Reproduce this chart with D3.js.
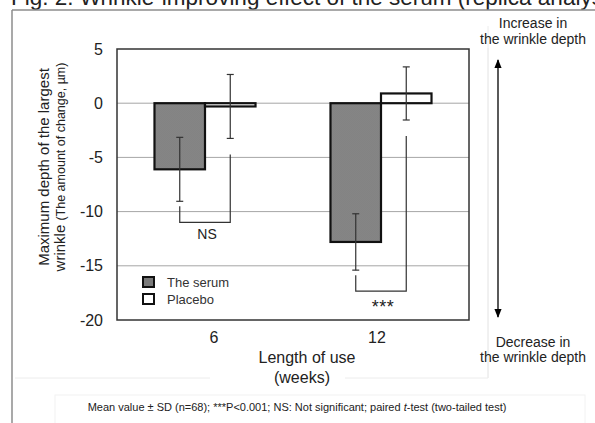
<!DOCTYPE html>
<html>
<head>
<meta charset="utf-8">
<script src="https://cdn.jsdelivr.net/npm/d3@7"></script>
<style>
  body { margin: 0; background: #fff; }
  svg { font-family: "Liberation Sans", Arial, sans-serif; }
</style>
</head>
<body>
<div id="chart"></div>
<script>
// values (change in depth, µm)
var weeks = ["6", "12"];
var groups = ["The serum", "Placebo"];
var serumMean = [-6.1, -12.8];
var serumSD = [2.95, 2.6];
var placeboMean = [-0.3, 0.9];
var placeboSD = [2.95, 2.45];
var sigLabels = ["NS", "***"];
var yTicks = [5, 0, -5, -10, -15, -20];

var width = 595, height = 423;
var plot = { left: 117, right: 469, top: 49, bottom: 320 };

var svg = d3.select("#chart").append("svg")
    .attr("width", width)
    .attr("height", height);

// serum fill texture
var defs = svg.append("defs");
var pat = defs.append("pattern")
    .attr("id", "dots")
    .attr("width", 2).attr("height", 2)
    .attr("patternUnits", "userSpaceOnUse");
pat.append("rect").attr("width", 2).attr("height", 2).attr("fill", "#9c9c9c");
pat.append("rect").attr("width", 1).attr("height", 1).attr("fill", "#6c6c6c");
pat.append("rect").attr("x", 1).attr("y", 1).attr("width", 1).attr("height", 1).attr("fill", "#6c6c6c");

defs.append("marker")
    .attr("id", "head")
    .attr("viewBox", "0 0 10 10")
    .attr("refX", 9).attr("refY", 5)
    .attr("markerWidth", 7).attr("markerHeight", 7)
    .attr("orient", "auto-start-reverse")
    .append("path")
    .attr("d", "M0,1L10,5L0,9Z")
    .attr("fill", "#000");

// title (cut off at the top, as in the source image)
svg.append("text")
    .attr("x", 11).attr("y", 5)
    .attr("font-size", 22.5)
    .attr("fill", "#222")
    .text("Fig. 2. Wrinkle-improving effect of the serum (replica analysis)");

// outer frame bits
svg.append("line").attr("x1", 12).attr("y1", 10).attr("x2", width).attr("y2", 10)
    .attr("stroke", "#8c8c8c").attr("stroke-width", 1.5);
svg.append("line").attr("x1", 12).attr("y1", 10).attr("x2", 12).attr("y2", height)
    .attr("stroke", "#8c8c8c").attr("stroke-width", 1.5);
// faint chart area border
svg.append("path").attr("d", "M15,378H488V26")
    .attr("fill", "none").attr("stroke", "#ececec");
svg.append("rect").attr("x", 55).attr("y", 395).attr("width", 530).attr("height", 30)
    .attr("fill", "#fff").attr("stroke", "#f2f2f2");

var x0 = d3.scaleBand()
    .domain(weeks)
    .range([plot.left, plot.right])
    .paddingInner(0.426)
    .paddingOuter(0.213);

var x1 = d3.scaleBand()
    .domain(groups)
    .range([0, x0.bandwidth()]);

var y = d3.scaleLinear()
    .domain([-20, 5])
    .range([plot.bottom, plot.top]);

// gridlines
svg.append("g")
  .selectAll("line")
  .data(yTicks.filter(function(d) { return d > -20 && d < 5; }))
  .enter().append("line")
    .attr("x1", plot.left).attr("x2", plot.right)
    .attr("y1", function(d) { return y(d); })
    .attr("y2", function(d) { return y(d); })
    .attr("stroke", "#a6a6a6").attr("stroke-width", 1);

// y axis labels
var yAxis = svg.append("g")
    .attr("transform", "translate(" + plot.left + ",0)")
    .call(d3.axisLeft(y).tickValues(yTicks).tickSize(0).tickPadding(14)
        .tickFormat(function(d) { return String(d); }));
yAxis.select(".domain").remove();
yAxis.selectAll("text").attr("font-size", 16).attr("fill", "#222")
    .attr("font-family", "Liberation Sans, Arial, sans-serif");

// x axis labels
var xAxis = svg.append("g")
    .attr("transform", "translate(0," + plot.bottom + ")")
    .call(d3.axisBottom(x0).tickSize(0).tickPadding(12));
xAxis.select(".domain").remove();
xAxis.selectAll("text").attr("font-size", 16).attr("fill", "#222")
    .attr("font-family", "Liberation Sans, Arial, sans-serif")
    .attr("dx", function(d, i) { return i === 0 ? 9 : -4; });

// bars
var rows = weeks.map(function(w, i) {
  return {
    week: w,
    items: [
      { group: groups[0], mean: serumMean[i], sd: serumSD[i] },
      { group: groups[1], mean: placeboMean[i], sd: placeboSD[i] }
    ],
    sig: sigLabels[i]
  };
});

var g = svg.selectAll(".week")
  .data(rows)
  .enter().append("g")
    .attr("class", "week")
    .attr("transform", function(d) { return "translate(" + x0(d.week) + ",0)"; });

g.selectAll("rect")
  .data(function(d) { return d.items; })
  .enter().append("rect")
    .attr("x", function(d) { return x1(d.group); })
    .attr("width", x1.bandwidth())
    .attr("y", function(d) { return y(Math.max(0, d.mean)); })
    .attr("height", function(d) { return Math.abs(y(d.mean) - y(0)); })
    .attr("fill", function(d) { return d.group === groups[0] ? "url(#dots)" : "#fff"; })
    .attr("stroke", "#111").attr("stroke-width", 2.2);

// error bars
var eb = g.selectAll(".err")
  .data(function(d) { return d.items; })
  .enter().append("g").attr("class", "err")
    .attr("transform", function(d) { return "translate(" + (x1(d.group) + x1.bandwidth() / 2) + ",0)"; });
eb.append("line")
    .attr("y1", function(d) { return y(d.mean + d.sd); })
    .attr("y2", function(d) { return y(d.mean - d.sd); });
eb.append("line").attr("x1", -3.5).attr("x2", 3.5)
    .attr("y1", function(d) { return y(d.mean + d.sd); })
    .attr("y2", function(d) { return y(d.mean + d.sd); });
eb.append("line").attr("x1", -3.5).attr("x2", 3.5)
    .attr("y1", function(d) { return y(d.mean - d.sd); })
    .attr("y2", function(d) { return y(d.mean - d.sd); });
eb.selectAll("line").attr("stroke", "#333").attr("stroke-width", 1.2);

// significance brackets
g.each(function(d) {
  var sel = d3.select(this);
  var a = d.items[0], b = d.items[1];
  var xa = x1(a.group) + x1.bandwidth() / 2;
  var xb = x1(b.group) + x1.bandwidth() / 2;
  var ya = y(a.mean - a.sd) + 5;
  var yb = y(b.mean - b.sd) + 16;
  var yl = ya + 16;
  sel.append("path")
      .attr("d", "M" + xa + "," + ya + "V" + yl + "H" + xb + "V" + yb)
      .attr("fill", "none").attr("stroke", "#333").attr("stroke-width", 1.2);
  sel.append("text")
      .attr("x", (xa + xb) / 2 + 2)
      .attr("y", d.sig === "NS" ? yl + 17 : yl + 22)
      .attr("text-anchor", "middle")
      .attr("font-size", d.sig === "NS" ? 14 : 18)
      .attr("letter-spacing", d.sig === "NS" ? 0 : 0.5)
      .attr("fill", "#222")
      .text(d.sig);
});

// plot frame
svg.append("rect")
    .attr("x", plot.left).attr("y", plot.top)
    .attr("width", plot.right - plot.left).attr("height", plot.bottom - plot.top)
    .attr("fill", "none").attr("stroke", "#333").attr("stroke-width", 1.5);

// legend
var leg = svg.append("g").attr("transform", "translate(143,277)");
var li = leg.selectAll("g").data(groups).enter().append("g")
    .attr("transform", function(d, i) { return "translate(0," + i * 17 + ")"; });
li.append("rect").attr("width", 11).attr("height", 10)
    .attr("fill", function(d, i) { return i === 0 ? "#7a7a7a" : "#fff"; })
    .attr("stroke", "#111").attr("stroke-width", 2);
li.append("text").attr("x", 24).attr("y", 10)
    .attr("font-size", 13).attr("fill", "#333")
    .text(function(d) { return d; });

// y axis title
var yt = svg.append("text")
    .attr("transform", "translate(49,167) rotate(-90)")
    .attr("text-anchor", "middle")
    .attr("fill", "#222");
yt.append("tspan").attr("x", 0).attr("y", 0).attr("font-size", 15)
    .text("Maximum depth of the largest");
yt.append("tspan").attr("x", 0).attr("dy", 16).attr("font-size", 15)
    .text("wrinkle ")
  .append("tspan").attr("font-size", 12.5)
    .text("(The amount of change, µm)");

// x axis title
svg.append("rect").attr("x", 210).attr("y", 368).attr("width", 135).attr("height", 20).attr("fill", "#fff");
svg.append("text").attr("x", 307).attr("y", 363).attr("text-anchor", "middle")
    .attr("font-size", 16).attr("fill", "#222").text("Length of use");
svg.append("text").attr("x", 302).attr("y", 383).attr("text-anchor", "middle")
    .attr("font-size", 16).attr("fill", "#222").text("(weeks)");

// right-hand annotation
svg.append("rect").attr("x", 470).attr("y", 12).attr("width", 125).attr("height", 36).attr("fill", "#fff");
svg.append("line").attr("x1", 488).attr("y1", 26).attr("x2", 488).attr("y2", 378).attr("stroke", "#ececec");
[["Increase in", 28], ["the wrinkle depth", 44]].forEach(function(t) {
  svg.append("text").attr("x", 533).attr("y", t[1]).attr("text-anchor", "middle")
      .attr("font-size", 14).attr("fill", "#222").text(t[0]);
});
[["Decrease in", 347], ["the wrinkle depth", 362]].forEach(function(t) {
  svg.append("text").attr("x", 533).attr("y", t[1]).attr("text-anchor", "middle")
      .attr("font-size", 14).attr("fill", "#222").text(t[0]);
});
svg.append("line")
    .attr("x1", 498).attr("y1", 60).attr("x2", 498).attr("y2", 317)
    .attr("stroke", "#000").attr("stroke-width", 1.3)
    .attr("marker-start", "url(#head)").attr("marker-end", "url(#head)");

// footnote
var fn = svg.append("text").attr("x", 297).attr("y", 411).attr("text-anchor", "middle")
    .attr("font-size", 11).attr("fill", "#222");
fn.append("tspan").text("Mean value \u00b1 SD (n=68); ***P<0.001; NS: Not significant; paired ");
fn.append("tspan").attr("font-style", "italic").text("t");
fn.append("tspan").text("-test (two-tailed test)");
</script>
</body>
</html>
